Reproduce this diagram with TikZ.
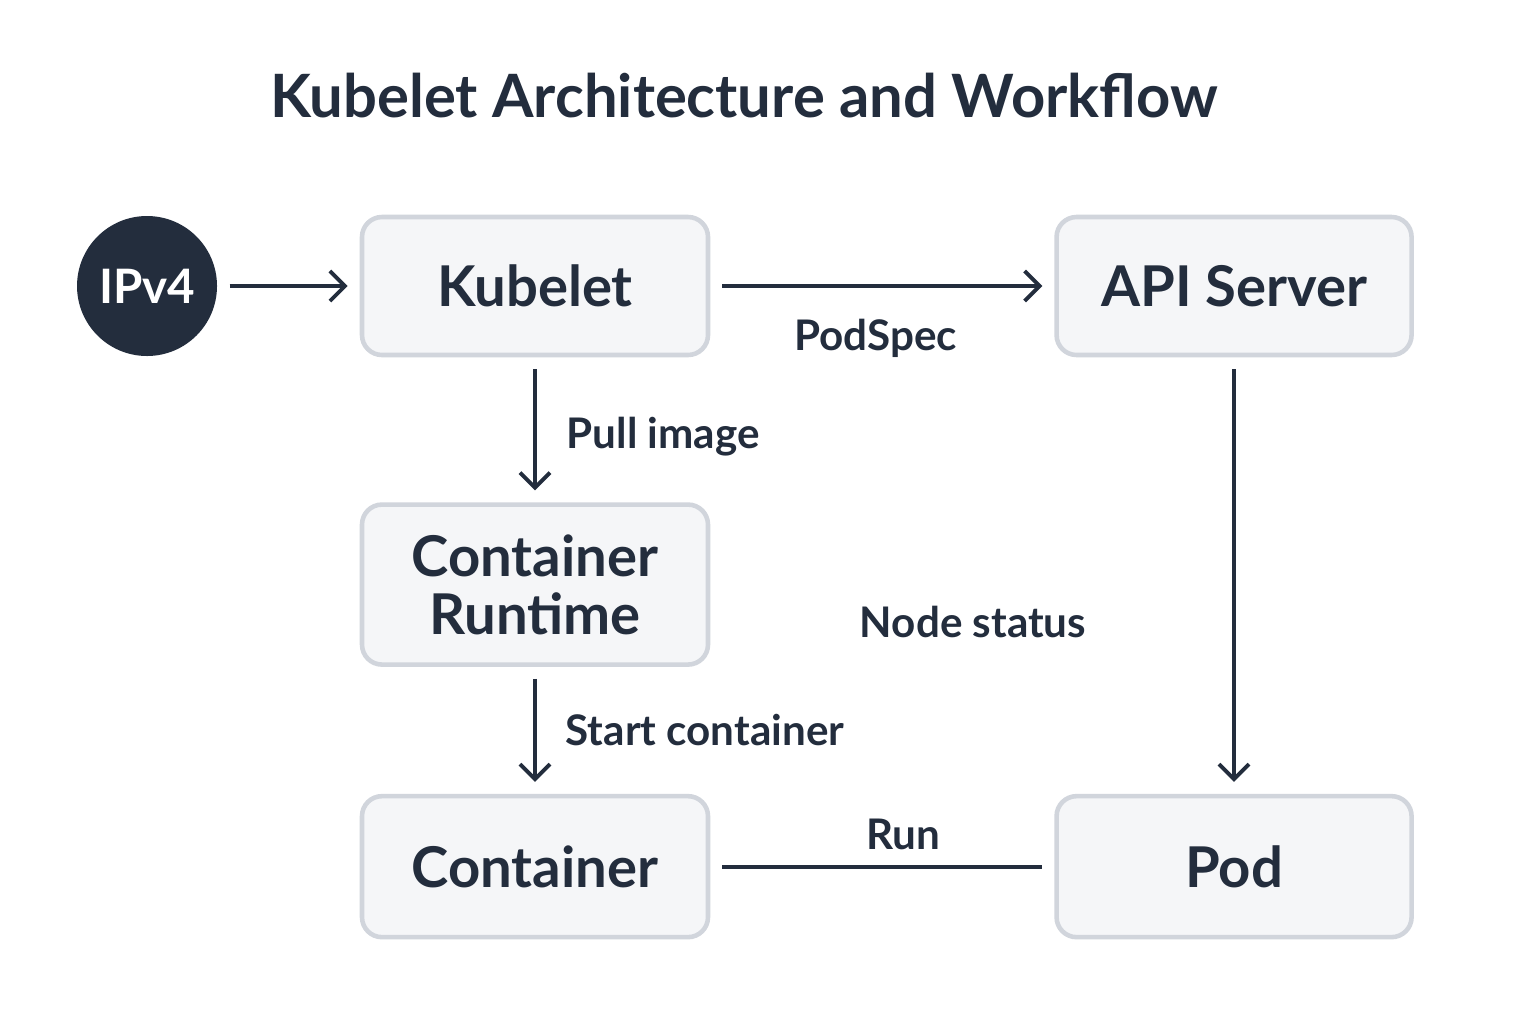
\documentclass[tikz,border=0pt]{standalone}
\usepackage{fontspec}
\setmainfont{Lato}
\usepackage{xcolor}
\usepackage{tikz}
\usetikzlibrary{shapes, arrows.meta, positioning, calc}

\definecolor{ink}{HTML}{232D3D}
\definecolor{boxfill}{HTML}{F5F6F8}
\definecolor{boxline}{HTML}{D1D5DC}

\begin{document}
\begin{tikzpicture}[node distance=1.4cm, auto]
    \tikzstyle{block} = [rectangle, draw=boxline, fill=boxfill, line width=1.3pt,
                         rounded corners=0.2cm, text=ink, align=center,
                         font=\fontsize{16}{16.5}\selectfont\bfseries,
                         minimum width=3.46cm, minimum height=1.38cm]
    \tikzstyle{flow} = [-{Straight Barb[length=1.5mm, width=3mm]}, ink, line width=1.1pt,
                        shorten <=0.12cm, shorten >=0.12cm]
    \tikzstyle{edgelabel} = [text=ink, font=\fontsize{12}{13}\selectfont\bfseries]

    \useasboundingbox (0,0) rectangle (15.36,-10.24);
    \fill[white] (0,0) rectangle (15.36,-10.24);

    \node [text=ink, font=\fontsize{17}{20}\selectfont\bfseries] (title) at (7.44,-0.96)
        {Kubelet Architecture and Workflow};

    \node [block] (kubelet) at (5.35,-2.86) {Kubelet};
    \node [block, minimum width=3.55cm, right=3.44cm of kubelet] (api) {API Server};
    \node [block, minimum height=1.6cm, below=1.45cm of kubelet] (runtime) {Container\\Runtime};
    \node [block, minimum height=1.41cm, below=1.27cm of runtime] (container) {Container};
    \node [block, minimum width=3.55cm, minimum height=1.41cm] (pod) at (api |- container) {Pod};
    \node [circle, fill=ink, text=white, minimum size=1.4cm, inner sep=0pt,
           font=\fontsize{13.5}{16}\selectfont\bfseries, left=1.42cm of kubelet] (ipv4) {IPv4};

    \node [edgelabel] (status) at (9.73,-6.22) {Node status};

    \draw[flow] (ipv4) -- (kubelet);
    \draw[flow] (kubelet) -- node[edgelabel, below=0.2cm, pos=0.48] {PodSpec} (api);
    \draw[flow] (kubelet) -- node[edgelabel, right=0.18cm, yshift=-0.07cm] {Pull image} (runtime);
    \draw[flow] (runtime) -- node[edgelabel, right=0.17cm] {Start container} (container);
    \draw[flow] (api) -- (pod);
    \draw[ink, line width=1.1pt, shorten <=0.12cm, shorten >=0.12cm] (container) --
        node[edgelabel, above=0.03cm, pos=0.56] {Run} (pod);
\end{tikzpicture}
\end{document}
